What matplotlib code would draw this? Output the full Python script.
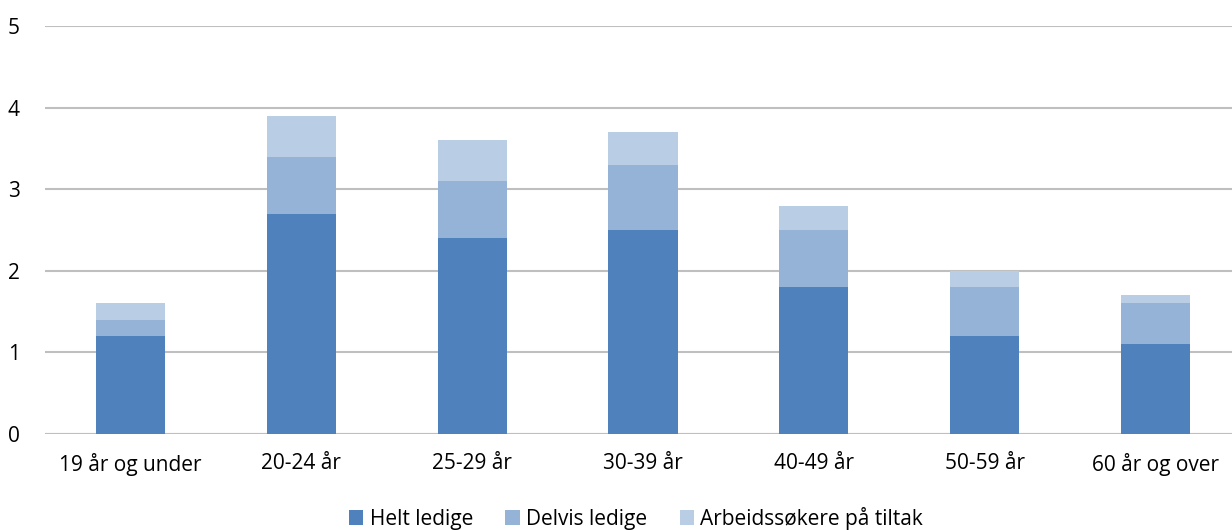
import matplotlib
matplotlib.use("Agg")
import matplotlib.pyplot as plt
import numpy as np

categories = ["19 år og under", "20-24 år", "25-29 år", "30-39 år", "40-49 år", "50-59 år", "60 år og over"]
helt = [1.2, 2.7, 2.4, 2.5, 1.8, 1.2, 1.1]
delvis = [0.2, 0.7, 0.7, 0.8, 0.7, 0.6, 0.5]
tiltak = [0.2, 0.5, 0.5, 0.4, 0.3, 0.2, 0.1]
series_names = ["Helt ledige", "Delvis ledige", "Arbeidssøkere på tiltak"]
colors = ["#4F81BD", "#95B3D7", "#B9CDE5"]
yticks = [0, 1, 2, 3, 4, 5]

plt.rcParams['font.family'] = ['Open Sans', 'DejaVu Sans']

fig = plt.figure(figsize=(12.32, 5.30), dpi=100)
ax = fig.add_axes([45/1232, 1-434/530, 1196/1232, (434-26)/530])

x = np.arange(len(categories))
w = 0.404
b1 = np.array(helt)
b2 = b1 + np.array(delvis)
ax.bar(x, helt, w, color=colors[0], label=series_names[0], zorder=3)
ax.bar(x, delvis, w, bottom=b1, color=colors[1], label=series_names[1], zorder=3)
ax.bar(x, tiltak, w, bottom=b2, color=colors[2], label=series_names[2], zorder=3)

ax.set_xlim(-0.5, len(categories) - 0.5)
ax.set_ylim(0, 5)
ax.set_yticks(yticks)
ax.set_yticklabels([str(t) for t in yticks])
ax.set_xticks(x)
ax.set_xticklabels(categories)
ax.tick_params(axis='both', length=0, labelsize=15, colors='#000000')
ax.tick_params(axis='y', pad=18)
ax.tick_params(axis='x', pad=14)
for s in ax.spines.values():
    s.set_visible(False)
ax.grid(axis='y', color='#BFBFBF', linewidth=1.5, zorder=0)
ax.axhline(0, color='#D9D9D9', linewidth=1.5, zorder=1)

leg = fig.legend(loc='center', bbox_to_anchor=(636/1232, 1-518/530), ncol=3, frameon=False,
                 fontsize=15, handlelength=0.7, handleheight=0.7, handletextpad=0.3,
                 columnspacing=1.55)

fig.savefig("out.png", dpi=100)
